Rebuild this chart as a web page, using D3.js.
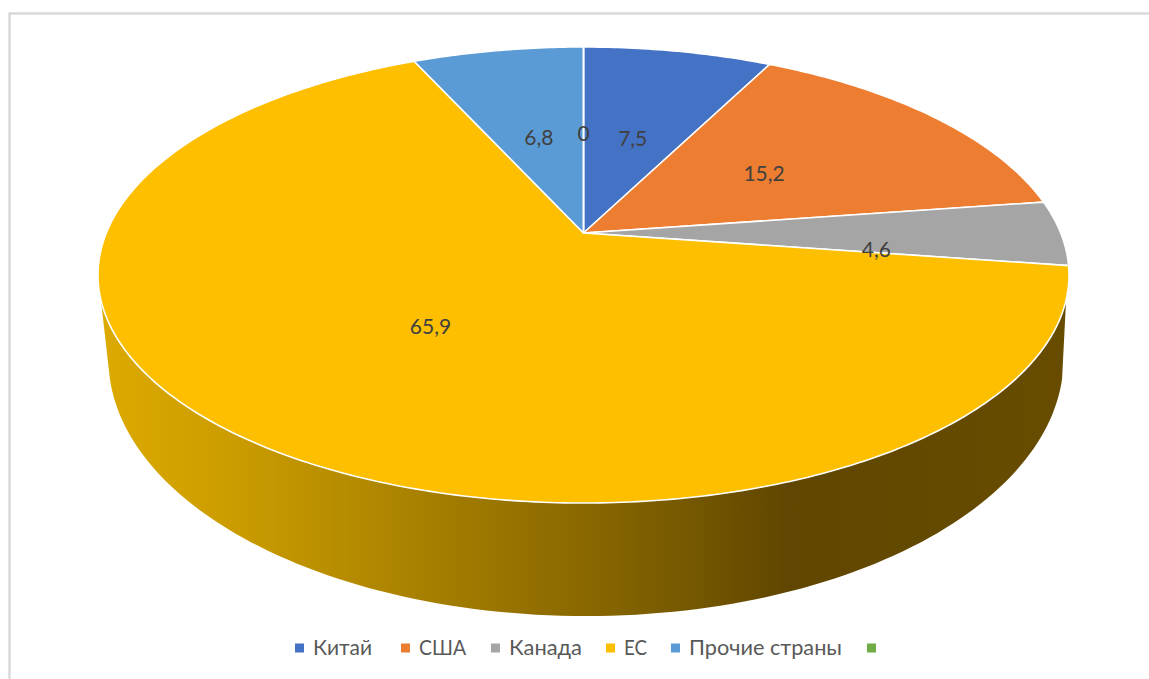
<!DOCTYPE html>
<html><head><meta charset="utf-8">
<script src="https://cdnjs.cloudflare.com/ajax/libs/d3/7.8.5/d3.min.js"></script>
<style>html,body{margin:0;padding:0;background:#fff;overflow:hidden}svg{display:block}text{font-family:Lato,"Open Sans",sans-serif}</style>
</head><body><svg id="c" width="1149" height="679"></svg>
<script>
const categories = ["Китай","США","Канада","ЕС","Прочие страны",""];
const values = [7.5,15.2,4.6,65.9,6.8,0];
const valueLabels = ["7,5","15,2","4,6","65,9","6,8","0"];
const colors = ["#4472C4","#ED7D31","#A5A5A5","#FDBF00","#5B9BD5","#70AD47"];
const legendMarkerX = [295,401,491,606,671,867];
const legendTextWidth = [59,47,73,23,153,0];
const labelRadius = [0.48,0.49,0.61,0.495,0.48,0.49];
const labelAngleShift = [0,0,7,0,0,0];

const svg = d3.select("#c");
// frame
svg.append("path").attr("d","M9.5 679V13.5H1149").attr("fill","none").attr("stroke","#D9D9D9").attr("stroke-width",2.4);

// perspective projection of the pie's unit disc
const cx=583.5, cy=233, a=477.2, b=220.3, k=0.1842;
const proj = (ang,r=1)=>{ const x=r*Math.sin(ang), y=r*Math.cos(ang), w=1+k*y; return [cx+a*x/w, cy-b*y/w]; };
// base disc outline: the top outline's ellipse remapped to the lower rim
const topRx=485.5, topRy=228, topCy=275, baseCx=586, baseRx=477.5, baseRy=257, baseCy=359;
const base = (ang)=>{ const p=proj(ang); return [baseCx+baseRx*(p[0]-cx)/topRx, baseCy+baseRy*(p[1]-topCy)/topRy]; };
const rad = d3.scaleLinear().domain([0,360]).range([0,2*Math.PI]);
const samples=(a0,a1,n)=>d3.range(n+1).map(i=>a0+(a1-a0)*i/n);

const pie = d3.pie().sort(null).value(d=>d)(values);
const line = d3.line();

// side wall
const defs = svg.append("defs");
const g = defs.append("linearGradient").attr("id","side").attr("gradientUnits","userSpaceOnUse")
  .attr("x1",100).attr("x2",1068).attr("y1",0).attr("y2",0);
[[0,"#DCAA00"],[0.14,"#CB9C00"],[0.3,"#AD8500"],[0.5,"#8A6800"],[0.62,"#735600"],[0.71,"#604600"],[1,"#674C00"]]
  .forEach(([o,c])=>g.append("stop").attr("offset",o).attr("stop-color",c));
const sideTop = samples(rad(106.7),rad(253.3),120).map(t=>proj(t));
const sideBase = samples(rad(255),rad(105),120).map(base);
svg.append("path").attr("d",line(sideTop.concat(sideBase))+"Z").attr("fill","url(#side)");

// top slices
svg.selectAll("path.slice").data(pie).join("path").attr("class","slice")
  .attr("d",d=>{
    const n=Math.max(2,Math.ceil((d.endAngle-d.startAngle)*80));
    return line([[cx,cy]].concat(samples(d.startAngle,d.endAngle,n).map(t=>proj(t))))+"Z";
  })
  .attr("fill",(d,i)=>colors[i]).attr("stroke","#fff").attr("stroke-width",1.6).attr("stroke-linejoin","round");

// value labels
svg.selectAll("text.val").data(pie).join("text").attr("class","val")
  .attr("transform",(d,i)=>{
    const m=(d.startAngle+d.endAngle)/2+rad(labelAngleShift[i]);
    const p=proj(m,labelRadius[i]); return `translate(${p[0]},${p[1]})`;
  })
  .attr("text-anchor","middle").attr("dy","0.35em").attr("font-size",21).attr("fill","#404040")
  .text((d,i)=>valueLabels[i]);

// legend
const lg = svg.selectAll("g.lg").data(categories).join("g").attr("class","lg")
  .attr("transform",(d,i)=>`translate(${legendMarkerX[i]},648)`);
lg.append("rect").attr("x",0).attr("y",-4.5).attr("width",9).attr("height",9).attr("fill",(d,i)=>colors[i]);
lg.filter(d=>d!=="").append("text").attr("x",18).attr("dy","0.35em").attr("font-size",21).attr("fill","#595959")
  .attr("textLength",(d,i)=>legendTextWidth[categories.indexOf(d)]).attr("lengthAdjust","spacingAndGlyphs").text(d=>d);
</script></body></html>
